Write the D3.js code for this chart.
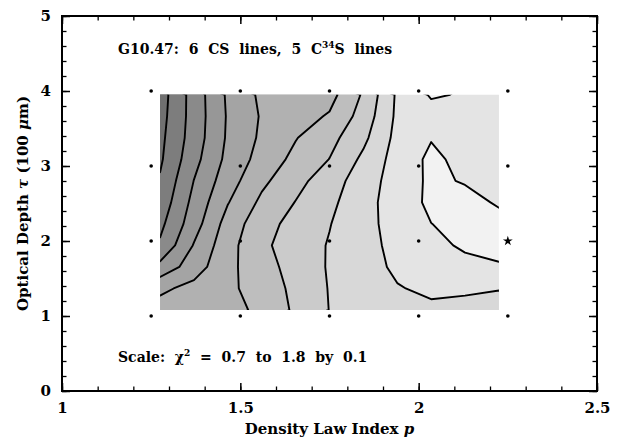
<!DOCTYPE html>
<html>
<head>
<meta charset="utf-8">
<script src="https://cdn.jsdelivr.net/npm/d3@7"></script>
<style>
  body { margin: 0; background: white; }
  text { font-family: "DejaVu Serif", serif; font-weight: bold; fill: black; white-space: pre; }
</style>
</head>
<body>
<script>
const pGrid = [1.275, 1.37, 1.465, 1.56, 1.655, 1.75, 1.845, 1.94, 2.035, 2.13, 2.225]
const tauGrid = [3.95, 3.663, 3.376, 3.089, 2.802, 2.515, 2.228, 1.941, 1.654, 1.367, 1.08]
const chi2 = [
    [1.746, 1.557, 1.384, 1.280, 1.252, 1.235, 1.087, 0.884, 0.790, 0.808, 0.840],
    [1.737, 1.558, 1.390, 1.291, 1.243, 1.190, 1.059, 0.880, 0.840, 0.830, 0.845],
    [1.725, 1.553, 1.386, 1.283, 1.205, 1.133, 1.023, 0.870, 0.805, 0.835, 0.845],
    [1.715, 1.532, 1.373, 1.262, 1.174, 1.098, 0.979, 0.859, 0.780, 0.827, 0.840],
    [1.690, 1.498, 1.344, 1.222, 1.132, 1.047, 0.948, 0.856, 0.782, 0.807, 0.825],
    [1.663, 1.470, 1.305, 1.179, 1.097, 1.023, 0.934, 0.854, 0.780, 0.770, 0.810],
    [1.625, 1.444, 1.259, 1.139, 1.066, 1.004, 0.930, 0.863, 0.801, 0.775, 0.770],
    [1.585, 1.393, 1.236, 1.120, 1.053, 0.993, 0.930, 0.875, 0.828, 0.785, 0.775],
    [1.470, 1.347, 1.226, 1.139, 1.063, 0.991, 0.934, 0.885, 0.850, 0.830, 0.808],
    [1.320, 1.270, 1.221, 1.156, 1.076, 0.995, 0.953, 0.905, 0.885, 0.890, 0.898],
    [1.260, 1.245, 1.230, 1.180, 1.082, 0.998, 0.960, 0.930, 0.915, 0.920, 0.920]
]
const levels = [0.8, 0.9, 1.0, 1.1, 1.2, 1.3, 1.4, 1.5, 1.6, 1.7]
// lightest band (0.7-0.8) first, darkest (1.7-1.8) last
const bandGrays = ["#f2f2f2", "#e4e4e4", "#d8d8d8", "#cbcbcb", "#bebebe", "#b1b1b1",
    "#a4a4a4", "#979797", "#8a8a8a", "#7d7d7d", "#707070"]

// model grid points and best fit
const modelP = [1.25, 1.5, 1.75, 2, 2.25]
const modelTau = [1, 2, 3, 4]
const bestFit = [2.25, 2]

const xMajor = [1, 1.5, 2, 2.5]
const yMajor = [0, 1, 2, 3, 4, 5]

const width = 628
const height = 441

const x = d3.scaleLinear().domain([1, 2.5]).range([62, 597])
const y = d3.scaleLinear().domain([0, 5]).range([391, 16])

const svg = d3.select("body").append("svg")
    .attr("width", width)
    .attr("height", height)

/*==================== contours ====================*/
const nx = pGrid.length, ny = tauGrid.length
const contours = d3.contours().size([nx, ny]).thresholds(levels)(chi2.flat())

// d3.contours puts sample k at k + 0.5
const ix = d3.scaleLinear().domain([0, nx - 1]).range([pGrid[0], pGrid[nx - 1]])
const iy = d3.scaleLinear().domain([0, ny - 1]).range([tauGrid[0], tauGrid[ny - 1]])
const path = d3.geoPath(d3.geoTransform({
    point(px, py) { this.stream.point(x(ix(px - 0.5)), y(iy(py - 0.5))) }
}))

const x0 = x(pGrid[0]), x1 = x(pGrid[nx - 1])
const y0 = y(tauGrid[0]), y1 = y(tauGrid[ny - 1])

svg.append("clipPath").attr("id", "grid-clip")
    .append("rect")
    .attr("x", x0).attr("y", y0)
    .attr("width", x1 - x0).attr("height", y1 - y0)

const map = svg.append("g").attr("clip-path", "url(#grid-clip)")

map.append("rect")
    .attr("x", x0).attr("y", y0)
    .attr("width", x1 - x0).attr("height", y1 - y0)
    .attr("fill", bandGrays[0])

map.append("g")
    .selectAll("path")
    .data(contours)
    .join("path")
    .attr("d", path)
    .attr("fill", (d, i) => bandGrays[i + 1])

map.append("g")
    .selectAll("path")
    .data(contours)
    .join("path")
    .attr("d", path)
    .attr("fill", "none")
    .attr("stroke", "black")
    .attr("stroke-width", 1.9)
    .attr("stroke-linejoin", "round")

/*==================== model points ====================*/
const pts = d3.cross(modelP, modelTau)
    .filter(d => !(d[0] === bestFit[0] && d[1] === bestFit[1]))

svg.append("g")
    .selectAll("circle")
    .data(pts)
    .join("circle")
    .attr("cx", d => x(d[0]))
    .attr("cy", d => y(d[1]))
    .attr("r", 1.8)
    .attr("fill", "black")

svg.append("path")
    .attr("d", d3.symbol(d3.symbolStar, 30))
    .attr("transform", `translate(${x(bestFit[0])},${y(bestFit[1])})`)
    .attr("fill", "black")

/*==================== axes ====================*/
const xMinor = d3.range(10, 26).map(d => d / 10)
const yMinor = d3.range(0, 26).map(d => d / 5)

function tickAxis(axis, scale, minor, major, transform, labels) {
    svg.append("g")
        .attr("transform", transform)
        .call(axis(scale).tickValues(minor).tickSize(-4.5).tickFormat(""))
        .call(g => g.select(".domain").remove())
        .call(g => g.selectAll(".tick line").attr("stroke-width", 1.3))
    const g = svg.append("g")
        .attr("transform", transform)
        .call(axis(scale).tickValues(major).tickSize(-8).tickPadding(labels ? 11 : 0)
            .tickFormat(labels ? d3.format("") : ""))
        .call(g => g.select(".domain").remove())
        .call(g => g.selectAll(".tick line").attr("stroke-width", 1.5))
    g.attr("font-family", null).attr("font-size", null)
    g.selectAll("text").style("font-size", "15px")
}

tickAxis(d3.axisBottom, x, xMinor, xMajor, `translate(0,${y(0)})`, true)
tickAxis(d3.axisTop, x, xMinor, xMajor, `translate(0,${y(5)})`, false)
tickAxis(d3.axisLeft, y, yMinor, yMajor, `translate(${x(1)},0)`, true)
tickAxis(d3.axisRight, y, yMinor, yMajor, `translate(${x(2.5)},0)`, false)

svg.append("rect")
    .attr("x", x(1)).attr("y", y(5))
    .attr("width", x(2.5) - x(1)).attr("height", y(0) - y(5))
    .attr("fill", "none")
    .attr("stroke", "black")
    .attr("stroke-width", 2)

/*==================== labels ====================*/
const title = svg.append("text")
    .attr("x", 118).attr("y", 54)
    .style("font-size", "14px")
title.append("tspan").text("G10.47:  6  CS  lines,  5  C")
title.append("tspan").attr("dy", -6).style("font-size", "9px").text("34")
title.append("tspan").attr("dy", 6).text("S  lines")

const scaleNote = svg.append("text")
    .attr("x", 118).attr("y", 362)
    .style("font-size", "14px")
scaleNote.append("tspan").text("Scale:  χ")
scaleNote.append("tspan").attr("dy", -6).style("font-size", "9px").text("2")
scaleNote.append("tspan").attr("dy", 6).text("  =  0.7  to  1.8  by  0.1")

const xLabel = svg.append("text")
    .attr("x", (x(1) + x(2.5)) / 2).attr("y", 434)
    .attr("text-anchor", "middle")
    .style("font-size", "15px")
xLabel.append("tspan").text("Density Law Index ")
xLabel.append("tspan").style("font-style", "italic").text("p")

const yLabel = svg.append("text")
    .attr("transform", `translate(28,${(y(0) + y(5)) / 2}) rotate(-90)`)
    .attr("text-anchor", "middle")
    .style("font-size", "15px")
yLabel.append("tspan").text("Optical Depth ")
yLabel.append("tspan").style("font-style", "italic").text("τ")
yLabel.append("tspan").text(" (100 ")
yLabel.append("tspan").style("font-style", "italic").text("μ")
yLabel.append("tspan").text("m)")
</script>
</body>
</html>
